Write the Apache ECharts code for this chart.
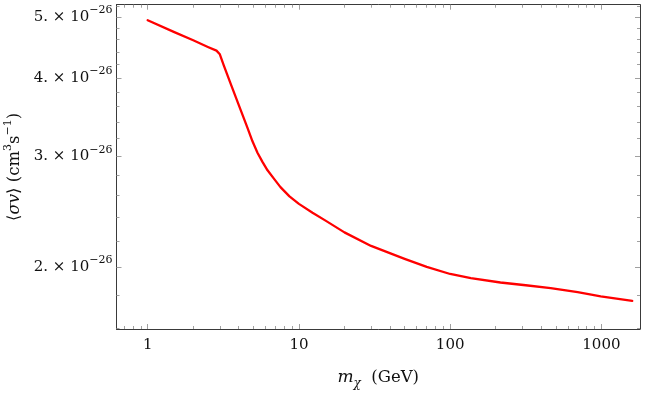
<!DOCTYPE html>
<html>
<head>
<meta charset="utf-8">
<script src="https://cdn.jsdelivr.net/npm/echarts@6/dist/echarts.min.js"></script>
<style>
html,body{margin:0;padding:0;background:#fff;}
#c{width:648px;height:393px;}
</style>
</head>
<body>
<div id="c"></div>
<script>
// Data: dark matter mass (GeV) and thermal cross-section (cm^3 s^-1)
const massGeV = [1, 1.5, 2, 2.5, 2.85, 3.0, 3.18, 3.53, 4.11, 4.57, 4.93, 5.32, 5.74, 6.2, 6.79, 7.55, 8.66, 10, 12.3, 15, 20, 30, 50, 70, 100, 137, 215, 316, 462, 697, 990, 1600];
const sigmaV = [4.94e-26, 4.73e-26, 4.59e-26, 4.48e-26, 4.42e-26, 4.36e-26, 4.19e-26, 3.92e-26, 3.56e-26, 3.33e-26, 3.17e-26, 3.04e-26, 2.94e-26, 2.85e-26, 2.77e-26, 2.68e-26, 2.59e-26, 2.52e-26, 2.44e-26, 2.37e-26, 2.27e-26, 2.16e-26, 2.06e-26, 2.00e-26, 1.949e-26, 1.919e-26, 1.889e-26, 1.870e-26, 1.851e-26, 1.823e-26, 1.796e-26, 1.766e-26];

const xMajorTicks = [1, 10, 100, 1000];
const xMinorTicks = [0.7, 0.8, 0.9, 2, 3, 4, 5, 6, 7, 8, 9, 20, 30, 40, 50, 60, 70, 80, 90, 200, 300, 400, 500, 600, 700, 800, 900];
const yMajorTicks = [2e-26, 3e-26, 4e-26, 5e-26];
const yMinorTicks = [1.6e-26, 1.8e-26, 2.2e-26, 2.4e-26, 2.6e-26, 2.8e-26, 3.2e-26, 3.4e-26, 3.6e-26, 3.8e-26, 4.2e-26, 4.4e-26, 4.6e-26, 4.8e-26, 5.2e-26];

const xRange = [0.622, 1800];
const yRange = [1.593e-26, 5.23e-26];

const L = Math.log10;
const seriesData = massGeV.map((m, i) => [L(m), L(sigmaV[i])]);

const FONT = "'DejaVu Serif', 'Liberation Serif', serif";
const TXT = '#111111';
const frameColor = '#3a3a3a';
const tickColor = '#a0a0a0';

function xAxisDef(pos, minor) {
  return {
    type: 'value', position: pos, gridIndex: 0,
    min: L(xRange[0]), max: L(xRange[1]),
    axisLine: {show: !minor, onZero: false, lineStyle: {color: frameColor, width: 1}},
    axisTick: {show: true, inside: true, length: minor ? 3 : 5,
      customValues: (minor ? xMinorTicks : xMajorTicks).map(L),
      lineStyle: {color: tickColor, width: 1}},
    axisLabel: (pos === 'bottom' && !minor) ? {
      show: true, customValues: xMajorTicks.map(L), margin: 9,
      fontFamily: FONT, fontSize: 15, color: TXT,
      formatter: v => String(Math.round(Math.pow(10, v)))
    } : {show: false},
    splitLine: {show: false},
    name: (pos === 'bottom' && !minor) ? '{i|m}{sub|χ}{n|  (GeV)}' : '',
    nameLocation: 'middle', nameGap: 37,
    nameTextStyle: {
      rich: {
        i: {fontFamily: FONT, fontStyle: 'italic', fontSize: 17, lineHeight: 24, color: TXT},
        sub: {fontFamily: FONT, fontStyle: 'italic', fontSize: 12, lineHeight: 14, verticalAlign: 'bottom', color: TXT},
        n: {fontFamily: FONT, fontSize: 16.5, lineHeight: 24, color: TXT}
      }
    }
  };
}

function yAxisDef(pos, minor) {
  return {
    type: 'value', position: pos, gridIndex: 0,
    min: L(yRange[0]), max: L(yRange[1]),
    axisLine: {show: !minor, onZero: false, lineStyle: {color: frameColor, width: 1}},
    axisTick: {show: true, inside: true, length: minor ? 3 : 5,
      customValues: (minor ? yMinorTicks : yMajorTicks).map(L),
      lineStyle: {color: tickColor, width: 1}},
    axisLabel: (pos === 'left' && !minor) ? {
      show: true, customValues: yMajorTicks.map(L), margin: 4,
      formatter: v => {
        const n = Math.round(Math.pow(10, v + 26));
        return '{a|' + n + '. × 10}{s|−26}';
      },
      rich: {
        a: {fontFamily: FONT, fontSize: 15, lineHeight: 24, color: TXT},
        s: {fontFamily: FONT, fontSize: 11, lineHeight: 12, verticalAlign: 'top', color: TXT}
      }
    } : {show: false},
    splitLine: {show: false},
    name: (pos === 'left' && !minor) ? '{n|⟨}{i|σv}{n|⟩ (cm}{s|3}{n|s}{s|−1}{n|)}' : '',
    nameLocation: 'middle', nameGap: 89, nameRotate: 90,
    nameTextStyle: {
      rich: {
        n: {fontFamily: FONT, fontSize: 16.5, lineHeight: 24, color: TXT},
        i: {fontFamily: FONT, fontStyle: 'italic', fontSize: 16.5, lineHeight: 24, color: TXT},
        s: {fontFamily: FONT, fontSize: 11, lineHeight: 12, verticalAlign: 'top', color: TXT}
      }
    }
  };
}

const chart = echarts.init(document.getElementById('c'), null, {renderer: 'canvas'});
chart.setOption({
  animation: false,
  backgroundColor: '#ffffff',
  grid: {left: 116.5, top: 4.7, right: 8, bottom: 64, containLabel: false, outerBoundsMode: 'none'},
  xAxis: [xAxisDef('bottom', false), xAxisDef('bottom', true), xAxisDef('top', false), xAxisDef('top', true)],
  yAxis: [yAxisDef('left', false), yAxisDef('left', true), yAxisDef('right', false), yAxisDef('right', true)],
  series: [{
    type: 'line', xAxisIndex: 0, yAxisIndex: 0,
    data: seriesData, showSymbol: false, smooth: false,
    lineStyle: {color: '#ff0000', width: 2.3, join: 'round', cap: 'round'},
    clip: true
  }]
});
</script>
</body>
</html>
